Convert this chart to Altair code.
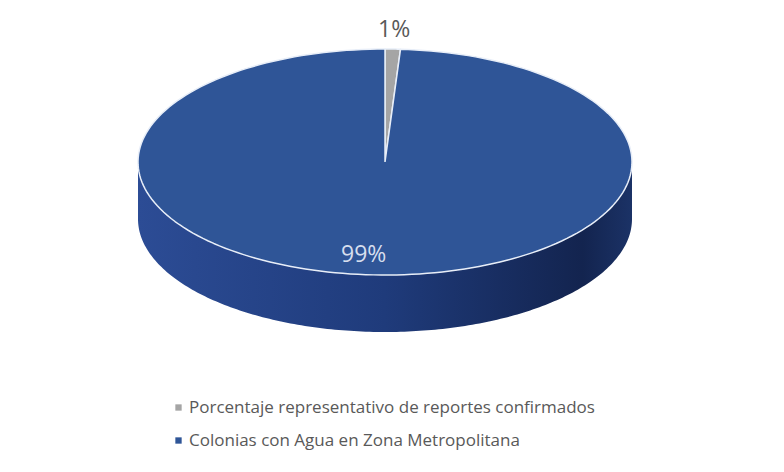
import altair as alt
import pandas as pd

# ---- data ----
categories = [
    "Porcentaje representativo de reportes confirmados",
    "Colonias con Agua en Zona Metropolitana",
]
values = [1, 99]
slice_colors = ["#a5a5a5", "#2f5597"]

df = pd.DataFrame({"categoria": categories, "valor": values})

# ---- layout (pixels of the page) ----
CX, CY, RX, RY, DEPTH = 385, 162, 247, 113, 57
N = 200

xs = alt.Scale(domain=[8, 776], nice=False, zero=False)
ys = alt.Scale(domain=[8, 464], reverse=True, nice=False, zero=False)

base = (
    alt.Chart(df)
    .transform_joinaggregate(total="sum(valor)")
    .transform_window(cum="sum(valor)")
    .transform_calculate(
        start="(datum.cum - datum.valor) / datum.total * 2 * PI",
        end="datum.cum / datum.total * 2 * PI",
        frac="datum.valor / datum.total",
    )
)

# 3D side (front half of the disc), derived from each slice's angles
side = (
    base.transform_calculate(
        s="max(datum.start, PI / 2)",
        e="min(datum.end, 3 * PI / 2)",
    )
    .transform_filter("datum.s < datum.e")
    .transform_calculate(pts=f"sequence(0, {N + 1})")
    .transform_flatten(["pts"], as_=["i"])
    .transform_calculate(th=f"datum.s + (datum.e - datum.s) * datum.i / {N}")
    .transform_calculate(
        x=f"{CX} + {RX} * sin(datum.th)",
        y=f"{CY} - {RY} * cos(datum.th)",
    )
    .transform_calculate(yb=f"datum.y + {DEPTH}")
    .mark_area(
        color=alt.LinearGradient(
            gradient="linear",
            stops=[
                alt.GradientStop(offset=0, color="#2c4c95"),
                alt.GradientStop(offset=0.5, color="#1f3b7b"),
                alt.GradientStop(offset=0.9, color="#13244f"),
                alt.GradientStop(offset=1, color="#1b3266"),
            ],
            x1=0, x2=1, y1=0, y2=0,
        )
    )
    .encode(
        x=alt.X("x:Q", scale=xs, axis=None),
        y=alt.Y("y:Q", scale=ys, axis=None),
        y2="yb:Q",
        detail="categoria:N",
    )
)

# top face slices
top = (
    base.transform_calculate(pts=f"sequence(0, {N + 2})")
    .transform_flatten(["pts"], as_=["i"])
    .transform_calculate(
        th=f"datum.start + (datum.end - datum.start) * clamp((datum.i - 1) / {N - 1}, 0, 1)",
        r=f"(datum.i == 0 || datum.i == {N + 1}) ? 0 : 1",
    )
    .transform_calculate(
        x=f"{CX} + {RX} * datum.r * sin(datum.th)",
        y=f"{CY} - {RY} * datum.r * cos(datum.th)",
    )
    .mark_line(stroke="#e8eef8", strokeWidth=1.5, strokeJoin="round")
    .encode(
        x=alt.X("x:Q", scale=xs, axis=None),
        y=alt.Y("y:Q", scale=ys, axis=None),
        fill=alt.Fill(
            "categoria:N",
            scale=alt.Scale(domain=categories, range=slice_colors),
            sort=categories,
            legend=alt.Legend(
                title=None,
                orient="none",
                legendX=162,
                legendY=391,
                direction="vertical",
                symbolType="square",
                symbolSize=40,
                symbolStrokeWidth=0,
                labelFontSize=17,
                labelFont="Open Sans",
                labelColor="#595959",
                labelLimit=700,
                labelOffset=2,
                rowPadding=15,
                padding=0,
            ),
        ),
        order=alt.Order("i:Q"),
    )
)

# percentage labels
labels = (
    base.transform_calculate(
        mid="(datum.start + datum.end) / 2",
        k="datum.frac < 0.05 ? 1.17 : 0.82",
        dxp="datum.frac < 0.05 ? 0 : -15",
        txt="format(datum.frac, '.0%')",
    )
    .transform_calculate(
        x=f"{CX} + datum.dxp + {RX} * datum.k * sin(datum.mid)",
        y=f"{CY} - {RY} * datum.k * cos(datum.mid)",
    )
    .mark_text(font="Open Sans", fontSize=23, align="center", baseline="middle")
    .encode(
        x=alt.X("x:Q", scale=xs, axis=None),
        y=alt.Y("y:Q", scale=ys, axis=None),
        text="txt:N",
        color=alt.condition("datum.frac < 0.05", alt.value("#595959"), alt.value("#d6deee")),
    )
)

chart = (
    alt.layer(side, top, labels)
    .properties(
        width=768,
        height=456,
        padding=0,
        background="white",
        autosize=alt.AutoSizeParams(type="fit", contains="padding"),
    )
    .configure_view(stroke=None)
)

chart.save("out.html", embed_options={"renderer": "svg", "actions": False})
